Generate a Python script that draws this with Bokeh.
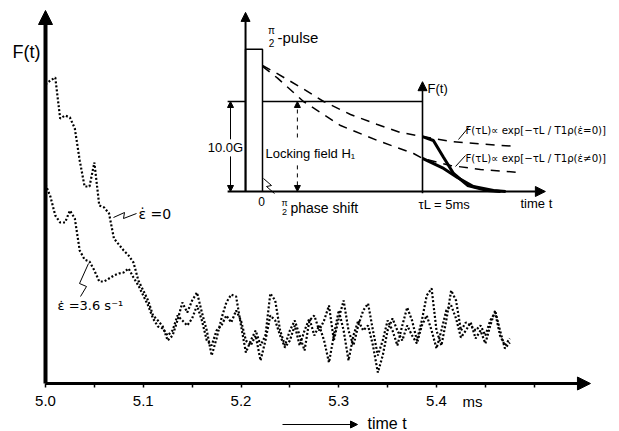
from bokeh.plotting import figure
from bokeh.models import Range1d, Label, Arrow, NormalHead, FixedTicker, PrintfTickFormatter, LinearAxis
from bokeh.embed import file_html
from bokeh.resources import INLINE

# ---------------- main trace data (time in ms, F(t) in arbitrary units) -------------
time_ms = [5.000, 5.005, 5.010, 5.015, 5.020, 5.025, 5.030, 5.035, 5.040, 5.045,
           5.050, 5.055, 5.060, 5.065, 5.070, 5.075, 5.080, 5.085, 5.090, 5.095,
           5.100, 5.105, 5.110, 5.115, 5.120, 5.125, 5.130, 5.135, 5.140, 5.145,
           5.150, 5.155, 5.160, 5.165, 5.170, 5.175, 5.180, 5.185, 5.190, 5.195,
           5.200, 5.205, 5.210, 5.215, 5.220, 5.225, 5.230, 5.235, 5.240, 5.245,
           5.250, 5.255, 5.260, 5.265, 5.270, 5.275, 5.280, 5.285, 5.290, 5.295,
           5.300, 5.305, 5.310, 5.315, 5.320, 5.325, 5.330, 5.335, 5.340, 5.345,
           5.350, 5.355, 5.360, 5.365, 5.370, 5.375, 5.380, 5.385, 5.390, 5.395,
           5.400, 5.405, 5.410, 5.415, 5.420, 5.425, 5.430, 5.435, 5.440, 5.445,
           5.450, 5.455, 5.460, 5.465, 5.470, 5.475]

F_eps_zero = [299, 303, 306, 265, 268, 266, 255, 223, 197, 197,
              221, 178, 176, 170, 145, 139, 133, 128, 121, 103,
              93, 83, 68, 63, 57, 43, 48, 63, 81, 71,
              83, 91, 71, 53, 28, 45, 65, 81, 89, 87,
              58, 31, 43, 53, 38, 48, 90, 83, 53, 38,
              53, 63, 48, 33, 63, 68, 53, 63, 78, 43,
              65, 83, 53, 38, 58, 73, 80, 53, 28, 43,
              63, 53, 38, 58, 76, 63, 43, 63, 88, 95,
              53, 38, 63, 93, 83, 53, 61, 58, 53, 58,
              48, 63, 71, 48, 38, 45]

F_eps_36 = [199, 187, 168, 161, 161, 173, 165, 133, 124, 122,
            113, 102, 102, 105, 108, 110, 111, 115, 106, 98,
            88, 78, 65, 57, 55, 48, 53, 68, 63, 58,
            65, 78, 63, 43, 38, 53, 58, 68, 61, 73,
            63, 43, 38, 48, 23, 43, 68, 63, 48, 36,
            43, 58, 38, 53, 65, 48, 58, 43, 21, 48,
            73, 53, 23, 48, 63, 53, 58, 38, 11, 28,
            53, 65, 53, 43, 58, 48, 40, 58, 68, 53,
            35, 53, 73, 78, 65, 46, 53, 61, 45, 53,
            40, 58, 73, 53, 35, 41]

x_ticks = [5.0, 5.1, 5.2, 5.3, 5.4, 5.5]
x_minor_ticks = [5.05, 5.15, 5.25, 5.35, 5.45]

# ---------------- inset schematic (time in ms, field in G / signal) ----------------
pulse_t = [-0.53, -0.53, 0.0, 0.0]
pulse_H = [0.0, 15.8, 15.8, 0.0]
lock_left_t = [-1.09, -0.53]
lock_t = [0.0, 5.0]
H1 = 10.0
tau_L = 5.0

decay0_t = [0.0, 0.41, 1.28, 1.91, 2.75, 3.59, 4.31, 5.0, 5.88, 6.81, 7.97]
decay0_F = [14.0, 13.2, 11.4, 10.0, 8.56, 7.44, 6.56, 6.1, 5.56, 5.28, 5.0]
decay1_t = [0.0, 0.47, 1.28, 2.44, 3.59, 4.72, 5.0, 5.88, 6.81, 8.06]
decay1_F = [13.9, 12.6, 10.0, 7.33, 5.67, 4.22, 3.67, 2.89, 2.44, 2.11]

fid0_t = [5.0, 5.34, 5.66, 5.97, 6.41, 7.03, 7.44]
fid0_F = [6.1, 5.67, 3.78, 2.0, 0.67, 0.11, 0.0]
fid1_t = [5.0, 5.66, 6.09, 6.59, 7.22, 7.6]
fid1_F = [3.67, 2.56, 1.56, 0.56, 0.11, 0.0]

FONT = "Liberation Sans"
FONT2 = "DejaVu Sans"

p = figure(width=619, height=431, x_range=Range1d(4.953964, 5.587212), y_range=Range1d(-48, 383),
           output_backend="svg", toolbar_location=None, x_axis_type=None, y_axis_type=None,
           min_border_left=0, min_border_right=0, min_border_top=0, min_border_bottom=0)
p.extra_x_ranges = {"inset": Range1d(-8.1875, 11.15625), "px": Range1d(0, 619)}
p.extra_y_ranges = {"inset": Range1d(-26.6667, 21.2222), "px": Range1d(431, 0)}
p.outline_line_color = None
p.grid.visible = False

ax = LinearAxis(fixed_location=0)
ax.ticker = FixedTicker(ticks=x_ticks, minor_ticks=x_minor_ticks)
ax.formatter = PrintfTickFormatter(format="%.1f")
ax.major_label_overrides = {5.5: ""}
ax.axis_line_color = None
ax.major_tick_in = 0
ax.major_tick_out = 4
ax.minor_tick_in = 0
ax.minor_tick_out = 4
ax.major_tick_line_width = 1.5
ax.minor_tick_line_width = 1.5
ax.major_tick_line_color = "black"
ax.minor_tick_line_color = "black"
ax.major_label_standoff = 8
ax.major_label_text_font = FONT
ax.major_label_text_font_size = "15px"
ax.major_label_text_color = "black"
p.add_layout(ax, "below")

# main axes arrows
p.add_layout(Arrow(end=NormalHead(size=13, fill_color="black", line_color="black"),
                   x_start=5.0, y_start=0, x_end=5.5575, y_end=0, line_width=3, line_color="black"))
p.add_layout(Arrow(end=NormalHead(size=14, fill_color="black", line_color="black"),
                   x_start=5.0, y_start=0, x_end=5.0, y_end=373, line_width=4, line_color="black"))

# traces
p.line(time_ms, F_eps_zero, line_color="black", line_width=2.2, line_dash="2 2")
p.line(time_ms, F_eps_36, line_color="black", line_width=2.2, line_dash="2 2")

# ---------------- inset drawing ----------------
I = dict(x_range_name="inset", y_range_name="inset")
p.line(pulse_t, pulse_H, line_color="black", line_width=1.5, **I)
p.line(lock_left_t, [H1, H1], line_color="black", line_width=1.5, **I)
p.line(lock_t, [H1, H1], line_color="black", line_width=1.5, **I)
p.line(decay0_t, decay0_F, line_color="black", line_width=1.5, line_dash="9 7", **I)
p.line(decay1_t, decay1_F, line_color="black", line_width=1.5, line_dash="9 7", **I)
p.line(fid0_t, fid0_F, line_color="black", line_width=3, **I)
p.line(fid1_t, fid1_F, line_color="black", line_width=3, **I)

p.add_layout(Arrow(end=NormalHead(size=9, fill_color="black", line_color="black"),
                   x_start=-0.53, y_start=0, x_end=-0.53, y_end=19.9,
                   line_width=2, line_color="black", **I))
p.add_layout(Arrow(end=NormalHead(size=10, fill_color="black", line_color="black"),
                   x_start=-1.09, y_start=0, x_end=8.84, y_end=0,
                   line_width=2, line_color="black", **I))
p.add_layout(Arrow(end=NormalHead(size=9, fill_color="black", line_color="black"),
                   x_start=tau_L, y_start=-0.2, x_end=tau_L, y_end=12.2,
                   line_width=1.6, line_color="black", **I))
# 10.0 G dimension
for ys, ye in [(5.8, H1), (3.9, 0.0)]:
    p.add_layout(Arrow(end=NormalHead(size=6, fill_color="black", line_color="black"),
                       x_start=-1.0, y_start=ys, x_end=-1.0, y_end=ye,
                       line_width=1, line_color="black", **I))
# locking field dimension (dashed)
for ys, ye in [(6.0, H1), (2.9, 0.0)]:
    p.add_layout(Arrow(end=NormalHead(size=6, fill_color="black", line_color="black"),
                       x_start=1.09, y_start=ys, x_end=1.09, y_end=ye,
                       line_width=1, line_color="black", line_dash="4 4", **I))

# ---------------- text ----------------
P = dict(x_range_name="px", y_range_name="px")

def lab(x, y, text, size, align="left", baseline="middle", font=FONT):
    p.add_layout(Label(x=x, y=y, text=text, text_font=font, text_font_size=size,
                       text_align=align, text_baseline=baseline, text_color="black", **P))

lab(26, 51, "F(t)", "18px", "center")
lab(138, 213, "ε̇ =0", "14px", font=FONT2)
lab(57, 305, "ε̇ =3.6 s⁻¹", "13px", font=FONT2)
lab(472, 401, "ms", "15px", "center")
lab(367, 423, "time t", "16px")
p.add_layout(Arrow(end=NormalHead(size=7, fill_color="black", line_color="black"),
                   x_start=282, y_start=424, x_end=357, y_end=424,
                   line_width=1.2, line_color="black", **P))

# leaders
p.line([113, 124, 123, 136], [217, 212, 218, 213], line_color="black", line_width=1, **P)
p.line([88, 79, 86, 80], [263, 283, 286, 296], line_color="black", line_width=1, **P)
p.line([458, 468], [139, 127], line_color="black", line_width=1, **P)
p.line([455, 465], [166, 155], line_color="black", line_width=1, **P)
p.line([263, 271, 266, 274], [178, 185, 186, 193], line_color="black", line_width=1, **P)

# inset text
lab(271, 30, "π", "10px", "center")
lab(271, 42, "2", "10px", "center")
lab(277, 37, " -pulse", "15px")
lab(225, 147, "10.0G", "13px", "center")
lab(265, 153, "Locking field H₁", "13px")
lab(261, 201, "0", "12px", "center")
lab(284, 202, "π", "9px", "center")
lab(284, 211, "2", "9px", "center")
lab(290, 207, "phase shift", "14px")
lab(427, 88, "F(t)", "13px")
lab(465, 130, "F(τL)∝ exp[−τL / T1ρ(ε̇=0)]", "10.2px", font=FONT2)
lab(465, 158, "F(τL)∝ exp[−τL / T1ρ(ε̇≠0)]", "10.2px", font=FONT2)
lab(418, 204, "τL = 5ms", "13px")
lab(520, 203, "time t", "13px")

open("out.html", "w").write(file_html(p, INLINE))
